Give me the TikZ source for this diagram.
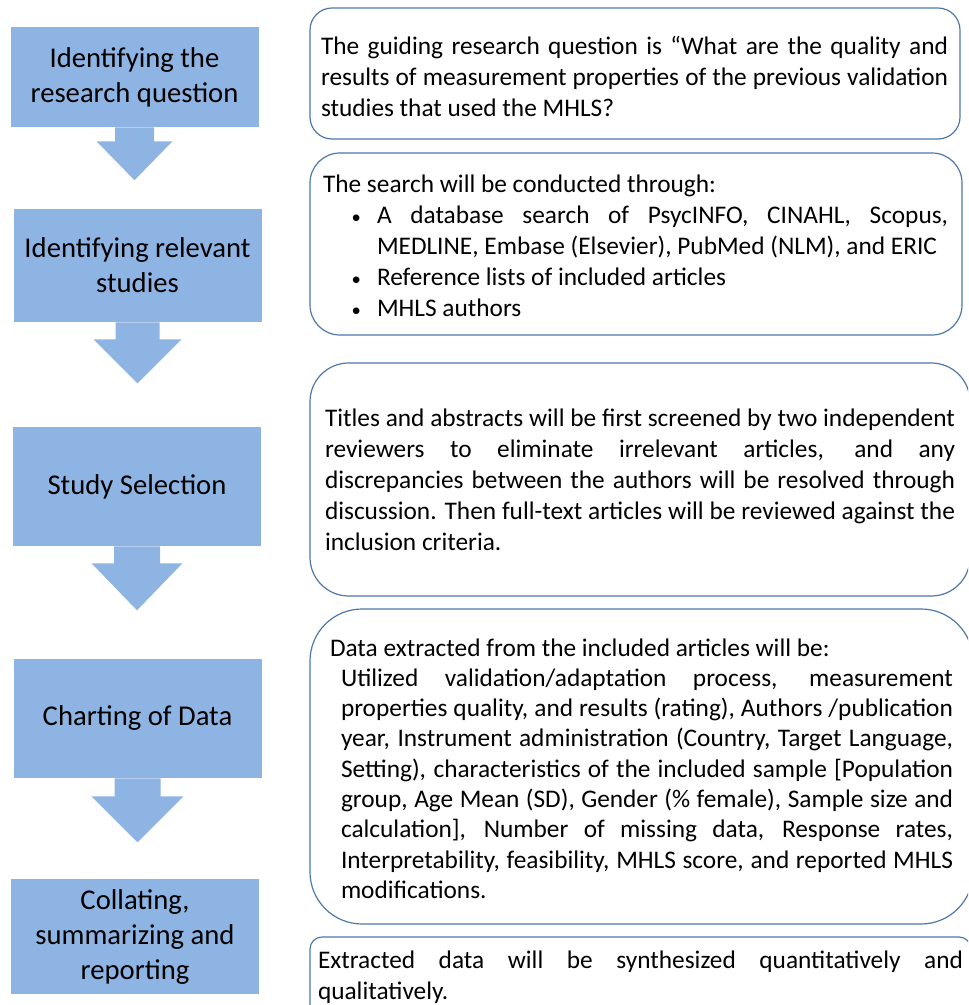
\documentclass[tikz,border=0pt]{standalone}
\usepackage{fontspec}
\setmainfont{Carlito}
\definecolor{stepblue}{RGB}{142,180,227}
\definecolor{edgeblue}{RGB}{79,119,170}
\setlength{\parindent}{0pt}
\newcommand{\smallbullet}{\llap{{\fontsize{14}{14}\selectfont\textbullet}\hspace{12pt}}}
\begin{document}
\begin{tikzpicture}[x=0.75pt, y=-0.75pt,
    stepbox/.style = {fill=stepblue, minimum width=186pt, align=center, font=\fontsize{21.5}{26.25}\selectfont},
    frame/.style = {draw=edgeblue, line width=0.9pt},
    info/.style = {align=justify, font=\fontsize{19}{23.25}\selectfont}]
    \useasboundingbox (0,0) rectangle (968,1005);
    \clip (0,0) rectangle (968,1005);
    \node[stepbox, minimum height=75pt] (s1) at (134.5,77) {Identifying the\\research question};
    \node[stepbox, minimum height=84.75pt] (s2) at (137.5,265.5) {Identifying relevant\\studies};
    \node[stepbox, minimum height=89.25pt] (s3) at (137,486.5) {Study Selection};
    \node[stepbox, minimum height=89.25pt] (s4) at (137.5,718.5) {Charting of Data};
    \node[stepbox, minimum height=86.25pt] (s5) at (135,936.5) {Collating,\\summarizing and\\reporting};
    \foreach \s/\sw/\sl/\hw/\hl in {s1/19.5/14/38/39, s2/22/17/44/44, s3/23/17/45.5/47, s4/23/18/46/46}
        \fill[stepblue] (\s.south) ++(-\sw,0) -- ++(0,\sl) -- ++({\sw-\hw},0) -- ++(\hw,\hl) -- ++(\hw,-\hl) -- ++({\sw-\hw},0) -- ++(0,-\sl) -- cycle;
    \node[frame, rounded corners=16.5pt, minimum width=487.5pt, minimum height=98.25pt] (question) at (635,73.5) {};
    \node[info, text width=470.25pt] (questiontext) at (634.5,76.5)
        {The guiding research question is “What are the quality and\linebreak results of measurement properties of the previous validation\linebreak studies that used the MHLS?};
    \node[frame, rounded corners=22.5pt, minimum width=489pt, minimum height=136.5pt] (search) at (636,244) {};
    \node[info, text width=468.75pt] (searchtext) at (635.5,245.5)
        {The search will be conducted through:\par
        \leftskip=40.5pt
        \noindent\smallbullet A database search of PsycINFO, CINAHL, Scopus,\linebreak MEDLINE, Embase (Elsevier), PubMed (NLM), and ERIC\par
        \noindent\smallbullet Reference lists of included articles\par
        \noindent\smallbullet MHLS authors\par};
    \node[frame, rounded corners=29pt, minimum width=495pt, minimum height=174.75pt] (selection) at (640,479.5) {};
    \node[info, text width=472.5pt] (selectiontext) at (640,479.5)
        {Titles and abstracts will be first screened by two independent\linebreak reviewers to eliminate irrelevant articles, and any\linebreak discrepancies between the authors will be resolved through\linebreak discussion. Then full-text articles will be reviewed against the\linebreak inclusion criteria.};
    \node[frame, rounded corners=39pt, minimum width=497.25pt, minimum height=236.25pt] (charting) at (641.5,766.5) {};
    \node[info, text width=467.25pt, font=\fontsize{19}{22.7}\selectfont] (chartingtext) at (641.5,768.5)
        {Data extracted from the included articles will be:\par
        \leftskip=8.25pt
        Utilized validation/adaptation process, measurement\linebreak properties quality, and results (rating), Authors /publication\linebreak year, Instrument administration (Country, Target Language,\linebreak Setting), characteristics of the included sample [Population\linebreak group, Age Mean (SD), Gender (\% female), Sample size and\linebreak calculation], Number of missing data, Response rates,\linebreak Interpretability, feasibility, MHLS score, and reported MHLS\linebreak modifications.\par};
    \node[frame, rounded corners=9pt, minimum width=495.75pt, minimum height=60pt] (collating) at (640.5,977) {};
    \node[info, text width=483.75pt] (collatingtext) at (640.5,977)
        {Extracted data will be synthesized quantitatively and\linebreak qualitatively.};
\end{tikzpicture}
\end{document}
